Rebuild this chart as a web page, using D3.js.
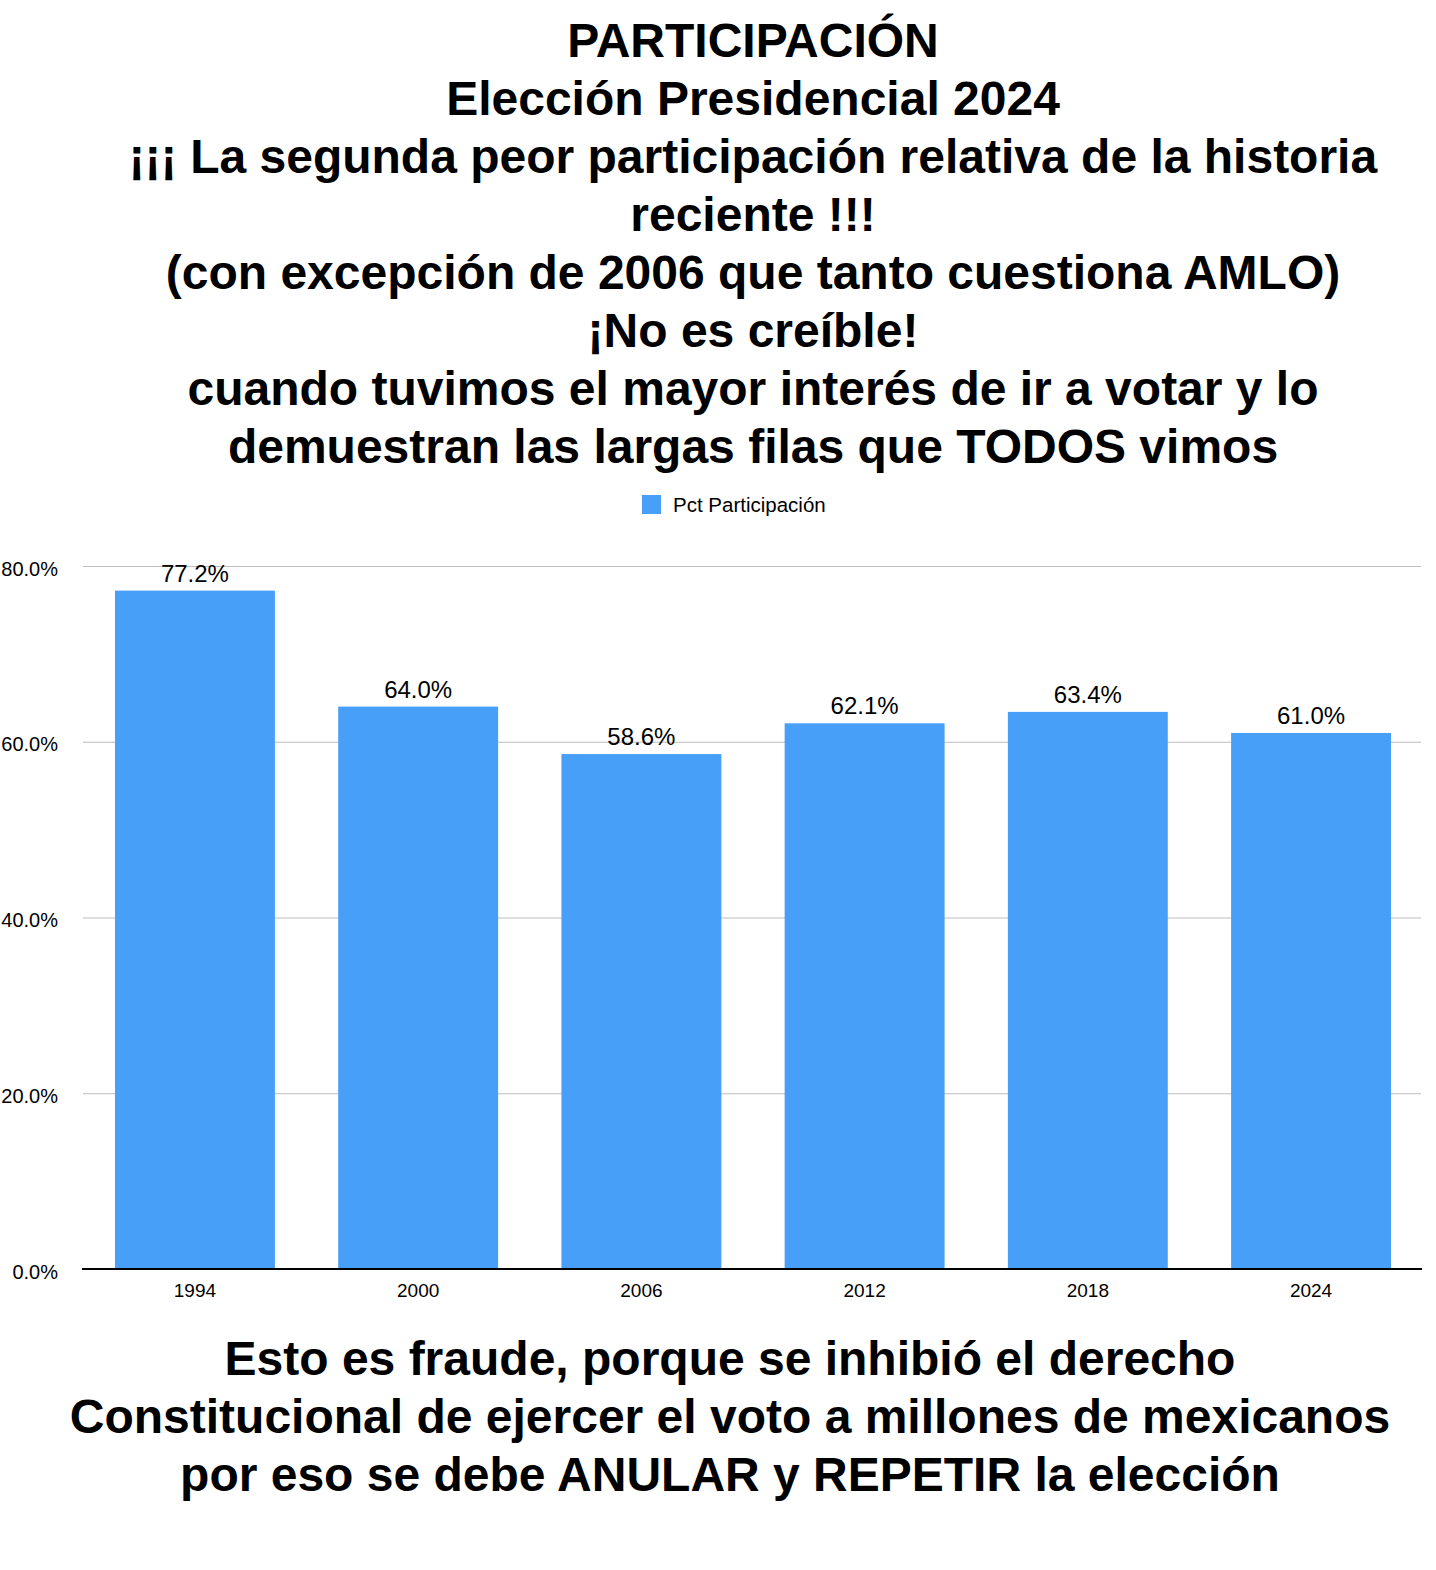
<!DOCTYPE html>
<html>
<head>
<meta charset="utf-8">
<script src="https://cdn.jsdelivr.net/npm/d3@7"></script>
<style>
  html, body { margin: 0; padding: 0; background: #fff; }
  svg { display: block; }
  text { font-family: "Liberation Sans", Arial, Helvetica, sans-serif; fill: #000; }
</style>
</head>
<body>
<svg id="chart" width="1436" height="1570"></svg>
<script>
const years = ["1994", "2000", "2006", "2012", "2018", "2024"];
const participation = [77.2, 64.0, 58.6, 62.1, 63.4, 61.0];
const yTicks = [0, 20, 40, 60, 80];
const seriesName = "Pct Participación";
const titleLines = [
  "PARTICIPACIÓN",
  "Elección Presidencial 2024",
  "¡¡¡ La segunda peor participación relativa de la historia",
  "reciente !!!",
  "(con excepción de 2006 que tanto cuestiona AMLO)",
  "¡No es creíble!",
  "cuando tuvimos el mayor interés de ir a votar y lo",
  "demuestran las largas filas que TODOS vimos"
];
const footerLines = [
  "Esto es fraude, porque se inhibió el derecho",
  "Constitucional de ejercer el voto a millones de mexicanos",
  "por eso se debe ANULAR y REPETIR la elección"
];

const barColor = "#479ff8";
const svg = d3.select("#chart");

const x = d3.scaleBand().domain(years).range([83, 1423]).paddingInner(0.2836).paddingOuter(0.1433);
const y = d3.scaleLinear().domain([0, 80]).range([1269, 566]);

// Title
svg.append("g").selectAll("text").data(titleLines).join("text")
  .attr("x", 753)
  .attr("y", (d, i) => 57 + i * 58)
  .attr("text-anchor", "middle")
  .attr("font-size", 48)
  .attr("font-weight", "bold")
  .text(d => d);

// Legend
const lg = svg.append("g");
lg.append("rect").attr("x", 642).attr("y", 495).attr("width", 19).attr("height", 19).attr("fill", barColor);
lg.append("text").attr("x", 673).attr("y", 512).attr("font-size", 20.5).text(seriesName);

// Gridlines
const grid = svg.append("g")
  .attr("transform", "translate(83,0)")
  .call(d3.axisLeft(y).tickValues(yTicks.filter(t => t > 0)).tickSize(-1338).tickFormat(""));
grid.select(".domain").remove();
grid.selectAll("line").attr("stroke", "#bdbdbd").attr("stroke-width", 1.2);

// Y labels
const yAx = svg.append("g")
  .attr("transform", "translate(58,0)")
  .call(d3.axisLeft(y).tickValues(yTicks).tickSize(0).tickPadding(0).tickFormat(d => d3.format(".1f")(d) + "%"));
yAx.select(".domain").remove();
yAx.selectAll("text").attr("font-size", 20).attr("font-family", "Liberation Sans, Arial, sans-serif").attr("fill", "#000").attr("dy", "0.45em");

// Bars
svg.append("g").selectAll("rect").data(years).join("rect")
  .attr("x", d => x(d))
  .attr("y", (d, i) => y(participation[i]))
  .attr("width", x.bandwidth())
  .attr("height", (d, i) => y(0) - y(participation[i]))
  .attr("fill", barColor);

// Value labels
svg.append("g").selectAll("text").data(years).join("text")
  .attr("x", d => x(d) + x.bandwidth() / 2)
  .attr("y", (d, i) => y(participation[i]) - 9)
  .attr("text-anchor", "middle")
  .attr("font-size", 24)
  .text((d, i) => d3.format(".1f")(participation[i]) + "%");

// X axis
const xAx = svg.append("g")
  .attr("transform", "translate(0,1269)")
  .call(d3.axisBottom(x).tickSize(0).tickPadding(0));
xAx.select(".domain").attr("stroke", "#000").attr("stroke-width", 2).attr("d", "M82,0H1422");
xAx.selectAll("text").attr("font-size", 19).attr("font-family", "Liberation Sans, Arial, sans-serif").attr("fill", "#000").attr("dy", 0).attr("y", 28);

// Footer
svg.append("g").selectAll("text").data(footerLines).join("text")
  .attr("x", 730)
  .attr("y", (d, i) => 1375 + i * 58)
  .attr("text-anchor", "middle")
  .attr("font-size", 48)
  .attr("font-weight", "bold")
  .text(d => d);
</script>
</body>
</html>
